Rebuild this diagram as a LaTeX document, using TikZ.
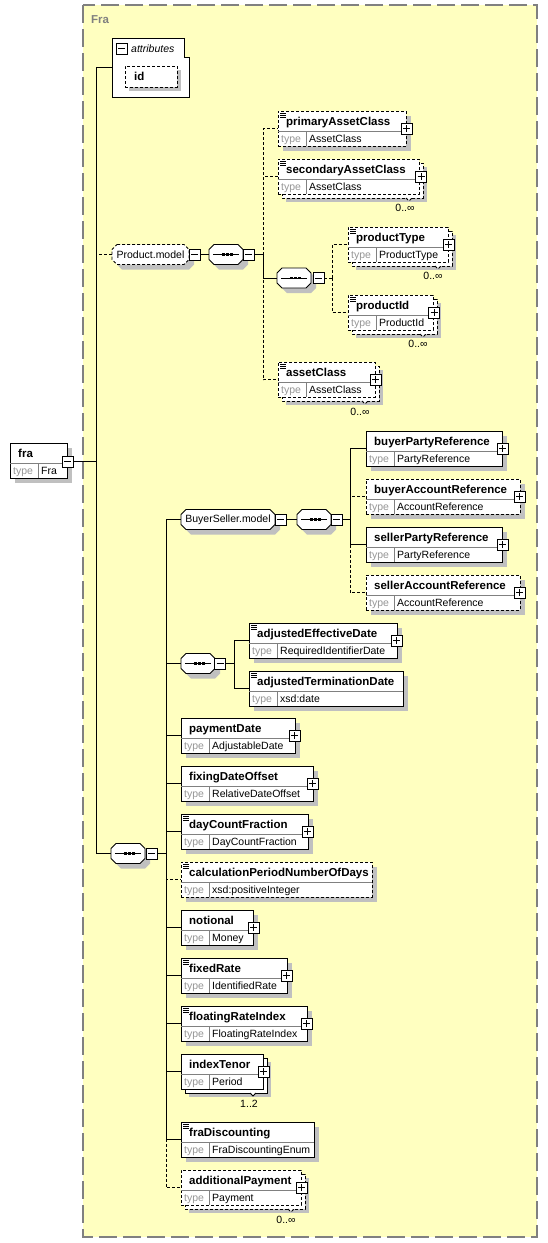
\documentclass[tikz,border=0pt]{standalone}
\usepackage{fontspec}
\setmainfont{Liberation Sans}
\definecolor{bgy}{RGB}{255,255,192}
\definecolor{shc}{RGB}{192,192,192}
\definecolor{frm}{RGB}{128,128,128}
\definecolor{tgray}{RGB}{150,150,150}
\tikzset{
  conn/.style={line width=0.8pt, draw=black},
  optconn/.style={conn, dash pattern=on 3pt off 2pt},
  boxline/.style={line width=0.8pt, draw=black},
  optline/.style={boxline, dash pattern=on 3pt off 2pt},
  divline/.style={line width=0.6pt, draw=frm},
  nametext/.style={font=\fontsize{11.5}{13}\selectfont\bfseries, inner sep=0pt, anchor=base west},
  typetext/.style={font=\fontsize{10.5}{12}\selectfont, inner sep=0pt, anchor=base west},
  grptext/.style={font=\fontsize{10.5}{12}\selectfont},
  occtext/.style={font=\fontsize{10.5}{12}\selectfont, inner sep=0pt, anchor=base},
  pmbox/.style={rectangle, draw=black, fill=white, line width=0.9pt, minimum size=11pt, inner sep=0pt, outer sep=0pt},
  pmline/.style={line width=0.8pt, draw=black},
}
\newcommand\xbody[7]{%
  \node[#7, fill=white, minimum width=#4pt, minimum height=35pt, inner sep=0pt, outer sep=0pt, anchor=north west] (#1) at (#2,#3) {};
  \draw[divline] (#2,#3+20) -- (#2+#4,#3+20);
  \draw[divline] (#2+28,#3+20) -- (#2+28,#3+35);
  \node[nametext] (#1-n) at (#2+8,#3+14) {#5};
  \node[typetext, text=tgray] (#1-t) at (#2+3,#3+31) {type};
  \node[typetext] (#1-v) at (#2+31,#3+31) {#6};
}
\newcommand\xel[7]{%
  \fill[shc] (#2+5,#3+5) rectangle (#2+#4+5,#3+40);
  \xbody{#1}{#2}{#3}{#4}{#5}{#6}{#7}}
\newcommand\xels[7]{%
  \fill[shc] (#2+8,#3+8) rectangle (#2+#4+8,#3+43);
  \path[fill=white, #7] (#2+4,#3+4) rectangle (#2+#4+4,#3+39);
  \path[fill=white] (#2+#4-13,#3+38) -- (#2+#4-10,#3+41.5) -- (#2+#4-7,#3+38) -- cycle;
  \draw[#7] (#2+#4-13,#3+39) -- (#2+#4-10,#3+42) -- (#2+#4-7,#3+39);
  \xbody{#1}{#2}{#3}{#4}{#5}{#6}{#7}}
\newcommand\xdoc[1]{%
  \foreach \dy in {1.8,3.8,5.8}{\draw[line width=0.6pt, draw=black] ([xshift=2pt,yshift=-\dy pt]#1.north west) -- ([xshift=8pt,yshift=-\dy pt]#1.north west);}}
\newcommand\xplus[3]{%
  \node[pmbox] (#1) at (#2,#3) {};
  \draw[pmline] ([xshift=-3.5pt]#1.center) -- ([xshift=3.5pt]#1.center);
  \draw[pmline] ([yshift=-3.5pt]#1.center) -- ([yshift=3.5pt]#1.center);}
\newcommand\xminus[3]{%
  \node[pmbox] (#1) at (#2,#3) {};
  \draw[pmline] ([xshift=-3.5pt]#1.center) -- ([xshift=3.5pt]#1.center);}
\newcommand\xgrp[6]{%
  \begin{scope}[shift={(#2,#3)}]
    \fill[shc] (10,-5) -- (#4,-5) -- (#4+5,0) -- (#4+5,10) -- (#4,15) -- (10,15) -- (5,10) -- (5,0) -- cycle;
    \path[fill=white, #6] (5,-10) -- (#4-5,-10) -- (#4,-5) -- (#4,5) -- (#4-5,10) -- (5,10) -- (0,5) -- (0,-5) -- cycle;
    \node[grptext, minimum width=#4pt, minimum height=20pt, inner sep=0pt, outer sep=0pt] (#1) at (#4/2,0) {#5};
  \end{scope}}
\newcommand\xseq[3]{%
  \begin{scope}[shift={(#2,#3)}]
    \fill[shc] (10,-5) -- (34,-5) -- (39,0) -- (39,10) -- (34,15) -- (10,15) -- (5,10) -- (5,0) -- cycle;
    \path[fill=white, boxline] (5,-10) -- (29,-10) -- (34,-5) -- (34,5) -- (29,10) -- (5,10) -- (0,5) -- (0,-5) -- cycle;
    \draw[line width=0.8pt, draw=black] (4,0) -- (30,0);
    \fill[black] (13.2,-1.4) rectangle (16,1.4);
    \fill[black] (17.2,-1.4) rectangle (20,1.4);
    \fill[black] (21.2,-1.4) rectangle (24,1.4);
    \node[inner sep=0pt, outer sep=0pt, minimum width=34pt, minimum height=20pt] (#1) at (17,0) {};
  \end{scope}}
\begin{document}
\begin{tikzpicture}[x=1pt,y=-1pt]
\useasboundingbox (0,0) rectangle (548,1243);
% container
\fill[bgy] (83,5) rectangle (537,1237);
\draw[frm, line width=1.2pt, dash pattern=on 18pt off 6pt] (83,5) rectangle (537,1237);
\node[nametext, text=frm] (title) at (91,23) {Fra};

% root element
\xel{fra}{10}{443}{57}{fra}{Fra}{boxline}
\xminus{fraM}{67.5}{461.5}

% attributes
\path[fill=white, boxline] (112,38) -- (184,38) -- (184,57) -- (189,57) -- (189,97) -- (112,97) -- cycle;
\node[inner sep=0pt, outer sep=0pt, minimum width=77pt, minimum height=59pt, anchor=north west] (attr) at (112,38) {};
\xminus{attrM}{121.5}{48.5}
\node[typetext, font=\fontsize{10.5}{12}\selectfont\itshape] (attrT) at (131,52) {attributes};
\fill[shc] (129,70) rectangle (181,91);
\node[optline, fill=white, minimum width=52pt, minimum height=21pt, inner sep=0pt, outer sep=0pt, anchor=north west] (id) at (125,66) {};
\node[nametext] (id-n) at (134,80) {id};

% Product.model
\xgrp{prod}{112}{254.5}{77}{Product.model}{optline}
\xminus{prodM}{194.5}{254.5}
\xseq{seq1}{209}{254.5}
\xminus{seq1M}{248.5}{254.5}

\xel{pac}{278}{111}{128}{primaryAssetClass}{AssetClass}{optline}
\xdoc{pac}
\xplus{pacP}{406.5}{128.5}
\xels{sac}{278}{159}{141}{secondaryAssetClass}{AssetClass}{optline}
\xdoc{sac}
\xplus{sacP}{421}{176.5}
\node[occtext] (sac-o) at (405,211) {0..∞};

\xseq{seq3}{277}{278}
\xminus{seq3M}{318.5}{278}
\xels{pty}{348}{227}{100}{productType}{ProductType}{optline}
\xdoc{pty}
\xplus{ptyP}{448.5}{244.5}
\node[occtext] (pty-o) at (433,279) {0..∞};
\xels{pid}{348}{295}{85}{productId}{ProductId}{optline}
\xdoc{pid}
\xplus{pidP}{434}{312.5}
\node[occtext] (pid-o) at (418,347) {0..∞};

\xels{acl}{278}{362}{97}{assetClass}{AssetClass}{optline}
\xdoc{acl}
\xplus{aclP}{375.5}{379.5}
\node[occtext] (acl-o) at (360,415) {0..∞};

% main sequence
\xseq{mseq}{111}{853.5}
\xminus{mseqM}{151.5}{853.5}

% BuyerSeller.model
\xgrp{bs}{181}{519.5}{94}{BuyerSeller.model}{boxline}
\xminus{bsM}{280.5}{519.5}
\xseq{bseq}{297}{519.5}
\xminus{bseqM}{336.5}{519.5}
\xel{bpr}{366}{431}{136}{buyerPartyReference}{PartyReference}{boxline}
\xplus{bprP}{502.5}{448.5}
\xel{bar}{366}{479}{154}{buyerAccountReference}{AccountReference}{optline}
\xplus{barP}{519.5}{496.5}
\xel{spr}{366}{527}{136}{sellerPartyReference}{PartyReference}{boxline}
\xplus{sprP}{502.5}{544.5}
\xel{sar}{366}{575}{154}{sellerAccountReference}{AccountReference}{optline}
\xplus{sarP}{519.5}{592.5}

% date sequence
\xseq{seq2}{181}{663.5}
\xminus{seq2M}{220}{663.5}
\xel{aed}{249}{623}{148}{adjustedEffectiveDate}{RequiredIdentifierDate}{boxline}
\xdoc{aed}
\xplus{aedP}{396.5}{640.5}
\xel{atd}{249}{671}{154}{adjustedTerminationDate}{xsd:date}{boxline}
\xdoc{atd}

% remaining children
\xel{pd}{181}{718}{114}{paymentDate}{AdjustableDate}{boxline}
\xplus{pdP}{294.5}{735.5}
\xel{fdo}{181}{766}{132}{fixingDateOffset}{RelativeDateOffset}{boxline}
\xplus{fdoP}{312.5}{783.5}
\xel{dcf}{181}{814}{127}{dayCountFraction}{DayCountFraction}{boxline}
\xdoc{dcf}
\xplus{dcfP}{307.5}{831.5}
\xel{cpn}{181}{862}{191}{calculationPeriodNumberOfDays}{xsd:positiveInteger}{optline}
\xdoc{cpn}
\xel{not}{181}{910}{72}{notional}{Money}{boxline}
\xplus{notP}{253.5}{927.5}
\xel{fxr}{181}{958}{106}{fixedRate}{IdentifiedRate}{boxline}
\xdoc{fxr}
\xplus{fxrP}{286.5}{975.5}
\xel{fri}{181}{1006}{126}{floatingRateIndex}{FloatingRateIndex}{boxline}
\xdoc{fri}
\xplus{friP}{306.5}{1023.5}
\xels{itn}{181}{1054}{82}{indexTenor}{Period}{boxline}
\xplus{itnP}{263.5}{1071.5}
\node[occtext] (itn-o) at (249,1107) {1..2};
\xel{frd}{181}{1122}{133}{fraDiscounting}{FraDiscountingEnum}{boxline}
\xdoc{frd}
\xels{adp}{181}{1170}{120}{additionalPayment}{Payment}{optline}
\xplus{adpP}{301.5}{1187.5}
\node[occtext] (adp-o) at (286,1223) {0..∞};

% junctions
\coordinate (j0) at (96,461.5);
\coordinate (j1) at (263,254.5);
\coordinate (j2) at (332,278);
\coordinate (j3) at (166,853.5);
\coordinate (j4) at (350,519.5);
\coordinate (j5) at (234,663.5);

% connectors: optional first
\draw[optconn] (j0) |- (prod.west);
\draw[optconn] (j1) |- (pac.west);
\draw[optconn] (j1) |- (sac.west);
\draw[optconn] (j1) |- (acl.west);
\draw[optconn] (seq3M.east) -- (j2);
\draw[optconn] (j2) |- (pty.west);
\draw[optconn] (j2) |- (pid.west);
\draw[optconn] (j4) |- (bar.west);
\draw[optconn] (j4) |- (sar.west);
\draw[optconn] (j3) |- (cpn.west);
\draw[optconn] (j3) |- (adp.west);
% solid
\draw[conn] (fraM.east) -- (j0);
\draw[conn] (j0) |- (attr.west);
\draw[conn] (j0) |- (mseq.west);
\draw[conn] (prodM.east) -- (seq1.west);
\draw[conn] (seq1M.east) -- (j1);
\draw[conn] (j1) |- (seq3.west);
\draw[conn] (mseqM.east) -- (j3);
\draw[conn] (j3) |- (bs.west);
\draw[conn] (bsM.east) -- (bseq.west);
\draw[conn] (bseqM.east) -- (j4);
\draw[conn] (j4) |- (bpr.west);
\draw[conn] (j4) |- (spr.west);
\draw[conn] (j3) |- (seq2.west);
\draw[conn] (seq2M.east) -- (j5);
\draw[conn] (j5) |- (aed.west);
\draw[conn] (j5) |- (atd.west);
\draw[conn] (j3) |- (pd.west);
\draw[conn] (j3) |- (fdo.west);
\draw[conn] (j3) |- (dcf.west);
\draw[conn] (j3) |- (not.west);
\draw[conn] (j3) |- (fxr.west);
\draw[conn] (j3) |- (fri.west);
\draw[conn] (j3) |- (itn.west);
\draw[conn] (j3) |- (frd.west);
\end{tikzpicture}
\end{document}
